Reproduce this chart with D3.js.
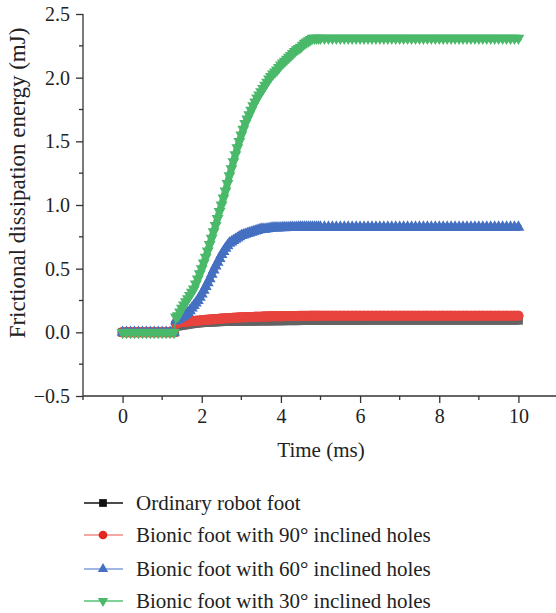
<!DOCTYPE html>
<html>
<head>
<meta charset="utf-8">
<script src="https://cdn.jsdelivr.net/npm/d3@7"></script>
<style>
  body { margin: 0; background: #fff; }
  svg { display: block; }
  text { font-family: "Liberation Serif", "DejaVu Serif", serif; fill: #222; }
</style>
</head>
<body>
<div class="chart"></div>
<script>
// sample times (ms): 0.1 ms before the contact, 0.05 ms while energy rises, 0.1 ms after
const time = [].concat(
  d3.range(0, 14).map(i => i / 10),
  d3.range(0, 74).map(i => 1.35 + i * 0.05),
  d3.range(0, 50).map(i => 5.1 + i * 0.1)
);

const ordinary = [
  0, 0, 0, 0, 0, 0, 0, 0, 0, 0, 0, 0, 0, 0,
  0.048, 0.05, 0.053, 0.055, 0.058, 0.06, 0.063, 0.065, 0.068, 0.07,
  0.072, 0.073, 0.075, 0.076, 0.077, 0.078, 0.079, 0.08, 0.081, 0.082,
  0.082, 0.083, 0.084, 0.084, 0.085, 0.085, 0.086, 0.086, 0.087, 0.087,
  0.087, 0.087, 0.088, 0.088, 0.088, 0.088, 0.088, 0.089, 0.089, 0.089,
  0.089, 0.089, 0.09, 0.09, 0.09, 0.09, 0.09, 0.09, 0.09, 0.091,
  0.091, 0.091, 0.091, 0.091, 0.091, 0.092, 0.092, 0.092, 0.092, 0.092,
  0.092, 0.092, 0.092, 0.093, 0.093, 0.093, 0.093, 0.093, 0.093, 0.093,
  0.093, 0.093, 0.093, 0.094,
  0.094, 0.094, 0.094, 0.094, 0.094, 0.094, 0.094, 0.094, 0.094, 0.094,
  0.095, 0.095, 0.095, 0.095, 0.095, 0.095, 0.095, 0.095, 0.095, 0.095,
  0.095, 0.095, 0.095, 0.095, 0.095, 0.095, 0.095, 0.095, 0.095, 0.095,
  0.095, 0.095, 0.095, 0.095, 0.095, 0.095, 0.095, 0.095, 0.095, 0.095,
  0.095, 0.095, 0.095, 0.095, 0.095, 0.095, 0.095, 0.095, 0.095, 0.095
];

const holes90 = [
  0, 0, 0, 0, 0, 0, 0, 0, 0, 0, 0, 0, 0, 0,
  0.072, 0.075, 0.078, 0.08, 0.082, 0.083, 0.085, 0.086, 0.088, 0.089,
  0.09, 0.092, 0.093, 0.095, 0.096, 0.098, 0.099, 0.1, 0.102, 0.103,
  0.104, 0.105, 0.107, 0.108, 0.109, 0.11, 0.111, 0.112, 0.113, 0.114,
  0.115, 0.116, 0.117, 0.118, 0.118, 0.119, 0.12, 0.12, 0.121, 0.121,
  0.122, 0.122, 0.123, 0.123, 0.124, 0.124, 0.125, 0.125, 0.126, 0.126,
  0.126, 0.126, 0.127, 0.127, 0.127, 0.128, 0.128, 0.128, 0.128, 0.128,
  0.128, 0.128, 0.129, 0.129, 0.129, 0.129, 0.129, 0.129, 0.13, 0.13,
  0.13, 0.13, 0.13, 0.13,
  0.13, 0.13, 0.13, 0.13, 0.13, 0.13, 0.13, 0.13, 0.13, 0.13,
  0.13, 0.13, 0.13, 0.13, 0.13, 0.13, 0.13, 0.13, 0.13, 0.13,
  0.13, 0.13, 0.13, 0.13, 0.13, 0.13, 0.13, 0.13, 0.13, 0.13,
  0.13, 0.13, 0.13, 0.13, 0.13, 0.13, 0.13, 0.13, 0.13, 0.13,
  0.13, 0.13, 0.13, 0.13, 0.13, 0.13, 0.13, 0.13, 0.13, 0.13
];

const holes60 = [
  0, 0, 0, 0, 0, 0, 0, 0, 0, 0, 0, 0, 0, 0,
  0.09, 0.1, 0.11, 0.12, 0.13, 0.14, 0.155, 0.17, 0.19, 0.21,
  0.23, 0.25, 0.275, 0.3, 0.33, 0.36, 0.39, 0.42, 0.455, 0.49,
  0.52, 0.55, 0.58, 0.61, 0.635, 0.66, 0.68, 0.7, 0.71, 0.72,
  0.73, 0.74, 0.75, 0.76, 0.765, 0.77, 0.775, 0.78, 0.785, 0.79,
  0.795, 0.8, 0.805, 0.81, 0.81, 0.81, 0.813, 0.815, 0.818, 0.82,
  0.82, 0.82, 0.82, 0.82, 0.822, 0.822, 0.822, 0.822, 0.824, 0.824,
  0.824, 0.824, 0.825, 0.825, 0.825, 0.825, 0.825, 0.825, 0.825, 0.825,
  0.825, 0.825, 0.825, 0.825,
  0.825, 0.825, 0.825, 0.825, 0.825, 0.825, 0.825, 0.825, 0.825, 0.825,
  0.825, 0.825, 0.825, 0.825, 0.825, 0.825, 0.825, 0.825, 0.825, 0.825,
  0.825, 0.825, 0.825, 0.825, 0.825, 0.825, 0.825, 0.825, 0.825, 0.825,
  0.825, 0.825, 0.825, 0.825, 0.825, 0.825, 0.825, 0.825, 0.825, 0.825,
  0.825, 0.825, 0.825, 0.825, 0.825, 0.825, 0.825, 0.825, 0.825, 0.825
];

const holes30 = [
  0, 0, 0, 0, 0, 0, 0, 0, 0, 0, 0, 0, 0, 0,
  0.12, 0.13, 0.16, 0.19, 0.215, 0.24, 0.265, 0.29, 0.315, 0.34,
  0.38, 0.42, 0.46, 0.5, 0.545, 0.59, 0.64, 0.69, 0.74, 0.79,
  0.84, 0.895, 0.95, 1.0, 1.055, 1.11, 1.17, 1.23, 1.285, 1.34,
  1.395, 1.45, 1.5, 1.55, 1.595, 1.64, 1.675, 1.71, 1.745, 1.78,
  1.81, 1.84, 1.865, 1.89, 1.915, 1.94, 1.965, 1.99, 2.01, 2.03,
  2.045, 2.06, 2.08, 2.1, 2.115, 2.13, 2.145, 2.16, 2.175, 2.19,
  2.205, 2.22, 2.23, 2.24, 2.255, 2.27, 2.28, 2.29, 2.3, 2.31,
  2.31, 2.31, 2.31, 2.31,
  2.31, 2.31, 2.31, 2.31, 2.31, 2.31, 2.31, 2.31, 2.31, 2.31,
  2.31, 2.31, 2.31, 2.31, 2.31, 2.31, 2.31, 2.31, 2.31, 2.31,
  2.31, 2.31, 2.31, 2.31, 2.31, 2.31, 2.31, 2.31, 2.31, 2.31,
  2.31, 2.31, 2.31, 2.31, 2.31, 2.31, 2.31, 2.31, 2.31, 2.31,
  2.31, 2.31, 2.31, 2.31, 2.31, 2.31, 2.31, 2.31, 2.31, 2.31
];

const seriesNames = [
  'Ordinary robot foot',
  'Bionic foot with 90° inclined holes',
  'Bionic foot with 60° inclined holes',
  'Bionic foot with 30° inclined holes'
];
const xTicks = [0, 2, 4, 6, 8, 10];
const yTicks = [-0.5, 0.0, 0.5, 1.0, 1.5, 2.0, 2.5];

const WIDTH = 556;
const HEIGHT = 613;

const series = [
  {name: seriesNames[0], values: ordinary, color: '#636363', legLine: '#111', legMark: '#111',
   symbol: d3.symbolSquare, size: 80, band: 8, rot: 0},
  {name: seriesNames[1], values: holes90, color: '#e8433d', legLine: '#f08a86', legMark: '#e0281f',
   symbol: d3.symbolCircle, size: 80, band: 10, rot: 0},
  {name: seriesNames[2], values: holes60, color: '#4570c2', legLine: '#7f9fd8', legMark: '#4570c2',
   symbol: d3.symbolTriangle, size: 62, band: 7, rot: 0},
  {name: seriesNames[3], values: holes30, color: '#4ab96a', legLine: '#52c472', legMark: '#4ab96a',
   symbol: d3.symbolTriangle, size: 62, band: 7, rot: 180}
];

const svg = d3.select('.chart').append('svg')
    .attr('width', WIDTH)
    .attr('height', HEIGHT);

const x = d3.scaleLinear().domain([-1, 11]).range([83, 558]);
const y = d3.scaleLinear().domain([-0.5, 2.5]).range([396, 14]);

const pts = (vals) => vals.map((v, i) => [time[i], v]);
const line = d3.line().x(d => x(d[0])).y(d => y(d[1]));

// dense markers overlap into a band; a wide stroke under them fills the gaps,
// broken at the contact jump where only the thin connecting line shows
series.forEach((s) => {
  const g = svg.append('g');
  const all = pts(s.values);
  const jump = s.values.findIndex(v => v > 0);
  [all.slice(0, jump), all.slice(jump)].forEach((part) => {
    g.append('path')
        .datum(part)
        .attr('d', line)
        .attr('fill', 'none')
        .attr('stroke', s.color)
        .attr('stroke-width', s.band)
        .attr('stroke-linecap', 'round')
        .attr('stroke-linejoin', 'round');
  });
  g.append('path')
      .datum(all)
      .attr('d', line)
      .attr('fill', 'none')
      .attr('stroke', s.color)
      .attr('stroke-width', 1.3);
  g.selectAll('path.m').data(all).enter().append('path')
      .attr('class', 'm')
      .attr('d', d3.symbol().type(s.symbol).size(s.size))
      .attr('transform', d => `translate(${x(d[0])},${y(d[1])}) rotate(${s.rot})`)
      .attr('fill', s.color);
});

// axes
const xAxis = d3.axisBottom(x).tickValues(xTicks).tickSize(7).tickPadding(6)
    .tickFormat(d3.format('d'));
const yAxis = d3.axisLeft(y).tickValues(yTicks).tickSize(7).tickPadding(6)
    .tickFormat(d => d < 0 ? '\u2212' + d3.format('.1f')(-d) : d3.format('.1f')(d));

const gx = svg.append('g').attr('transform', `translate(0,${y(-0.5)})`).call(xAxis);
const gy = svg.append('g').attr('transform', `translate(${x(-1)},0)`).call(yAxis);

[gx, gy].forEach((g) => {
  g.select('.domain').attr('stroke', '#333').attr('stroke-width', 1.3);
  g.selectAll('.tick line').attr('stroke', '#333').attr('stroke-width', 1.3);
  g.selectAll('.tick text').attr('font-size', 20).attr('fill', '#222')
      .attr('font-family', '"Liberation Serif", serif');
});
gy.select('.domain').attr('d', `M0,${y(2.5)}V${y(-0.5)}`);
gx.select('.domain').attr('d', `M${x(-1)},0H${WIDTH}`);

// minor ticks
const xMinor = [-1, 1, 3, 5, 7, 9];
gx.selectAll('line.minor').data(xMinor).enter().append('line')
    .attr('x1', d => x(d)).attr('x2', d => x(d))
    .attr('y1', 0).attr('y2', 4)
    .attr('stroke', '#333').attr('stroke-width', 1.3);
const yMinor = [-0.25, 0.25, 0.75, 1.25, 1.75, 2.25];
gy.selectAll('line.minor').data(yMinor).enter().append('line')
    .attr('y1', d => y(d)).attr('y2', d => y(d))
    .attr('x1', 0).attr('x2', -4)
    .attr('stroke', '#333').attr('stroke-width', 1.3);

// axis titles
svg.append('text')
    .attr('x', 321).attr('y', 457)
    .attr('text-anchor', 'middle')
    .attr('font-size', 21)
    .text('Time (ms)');
svg.append('text')
    .attr('transform', `translate(25,${(18 + 348) / 2}) rotate(-90)`)
    .attr('text-anchor', 'middle')
    .attr('font-size', 23)
    .text('Frictional dissipation energy (mJ)');

// legend
const legendY = [503, 535, 569, 601];
series.forEach((s, i) => {
  const g = svg.append('g').attr('transform', `translate(0,${legendY[i]})`);
  g.append('line')
      .attr('x1', 84).attr('x2', 123)
      .attr('stroke', s.legLine).attr('stroke-width', 1.6);
  g.append('path')
      .attr('d', d3.symbol().type(s.symbol).size(s.size * 0.75))
      .attr('transform', `translate(103,0) rotate(${s.rot})`)
      .attr('fill', s.legMark);
  g.append('text')
      .attr('x', 136).attr('y', 7)
      .attr('font-size', 21)
      .text(s.name);
});
</script>
</body>
</html>
